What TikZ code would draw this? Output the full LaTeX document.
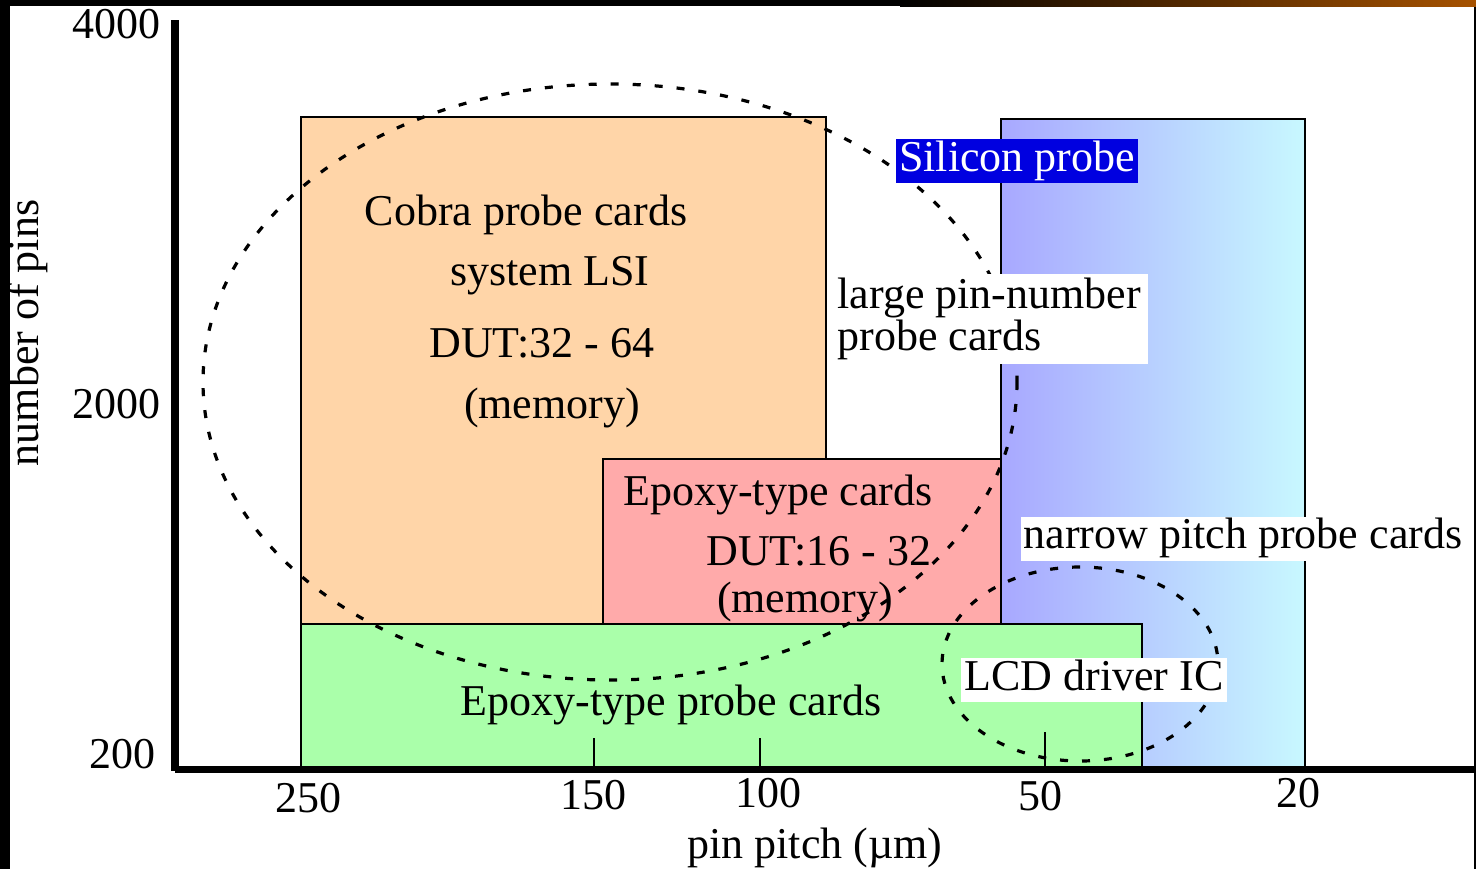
\documentclass[tikz,border=0pt]{standalone}
\usepackage{fontspec}
\setmainfont{Liberation Serif}
\usepackage{tikz}
\usetikzlibrary{positioning,shadings}

\definecolor{cobrafill}{HTML}{FFD5A8}
\definecolor{epoxyfill}{HTML}{FFAAAA}
\definecolor{probefill}{HTML}{AAFFAA}
\definecolor{siliconA}{HTML}{A8A8FF}
\definecolor{siliconB}{HTML}{C8F8FF}
\definecolor{siliconbox}{HTML}{0000E0}
\definecolor{topbar}{HTML}{A65200}

\tikzset{
  lbl/.style={font=\fontsize{22}{21}\selectfont,inner sep=0pt},
  tag/.style={lbl,fill=white,inner xsep=1.5pt,inner ysep=1pt},
  oneline/.style={text height=15pt,text depth=5pt},
  card/.style={draw=black,line width=1pt},
  axis/.style={line width=3.6pt},
  tick/.style={line width=1pt},
  group/.style={dash pattern=on 4pt off 7pt,line width=1.6pt}
}

\begin{document}
\begin{tikzpicture}[x=0.5pt,y=-0.5pt]
  \useasboundingbox (0,0) rectangle (1476,869);
  % frame
  \fill[black] (0,0) rectangle (1476,869);
  \fill[white] (10,6) rectangle (1474,869);
  \shade[left color=black,right color=topbar] (900,0) rectangle (1476,6);

  % card areas
  \fill[cobrafill] (301,117) rectangle (826,624);
  \draw[card] (301,624) -- (301,117) -- (826,117) -- (826,459);
  \draw[card,fill=epoxyfill] (603,459) rectangle (1001,624);
  \shade[left color=siliconA,right color=siliconB] (1001,119) rectangle (1305,768);
  \draw[card] (1001,768) -- (1001,119) -- (1305,119) -- (1305,768);
  \draw[card,fill=probefill] (301,624) rectangle (1142,768);

  % ticks
  \draw[tick] (594,738) -- (594,768);
  \draw[tick] (760,738) -- (760,768);
  \draw[tick] (1045,732) -- (1045,768);

  % dashed groups
  \draw[group] (610,382) ellipse [x radius=407, y radius=298];
  \draw[group] (1080,664) ellipse [x radius=138, y radius=97];

  % axes
  \draw[axis] (175,20) -- (175,771.3);
  \draw[axis] (175,769.5) -- (1476,769.5);

  % axis labels
  \node[lbl,anchor=base east] (y4000) at (161,38) {4000};
  \node[lbl,anchor=base east] (y2000) at (161,418) {2000};
  \node[lbl,anchor=base east] (y200) at (156,768) {200};
  \node[lbl,rotate=90] (ytitle) at (28,333) {number of pins};
  \node[lbl,anchor=base] (x250) at (308,812) {250};
  \node[lbl,anchor=base] (x150) at (593,809) {150};
  \node[lbl,anchor=base] (x100) at (768,807) {100};
  \node[lbl,anchor=base] (x50) at (1040,810) {50};
  \node[lbl,anchor=base] (x20) at (1298,807) {20};
  \node[lbl,anchor=base] (xtitle) at (815,858) {pin pitch (µm)};

  % card texts
  \node[lbl,anchor=base] (cobra) at (526,225) {Cobra probe cards};
  \node[lbl,anchor=base] (lsi) at (550,285) {system LSI};
  \node[lbl,anchor=base] (dutA) at (542,357) {DUT:32 - 64};
  \node[lbl,anchor=base] (memA) at (552,418) {(memory)};
  \node[lbl,anchor=base] (epoxy) at (778,505) {Epoxy-type cards};
  \node[lbl,anchor=base] (dutB) at (819,565) {DUT:16 - 32};
  \node[lbl,anchor=base] (memB) at (805,612) {(memory)};
  \node[lbl,anchor=base] (epoxyprobe) at (671,715) {Epoxy-type probe cards};

  % tags
  \node[tag,oneline,fill=siliconbox,text=white] (silicon) at (1017,161) {Silicon probe};
  \node[tag,align=left,anchor=north west,inner xsep=3.5pt,inner ysep=2pt] (large) at (830,274)
        {large pin-number\\probe cards};
  \node[tag,oneline] (narrow) at (1243,538.5) {narrow pitch probe cards};
  \node[tag,oneline] (lcd) at (1094,680) {LCD driver IC};
\end{tikzpicture}
\end{document}
